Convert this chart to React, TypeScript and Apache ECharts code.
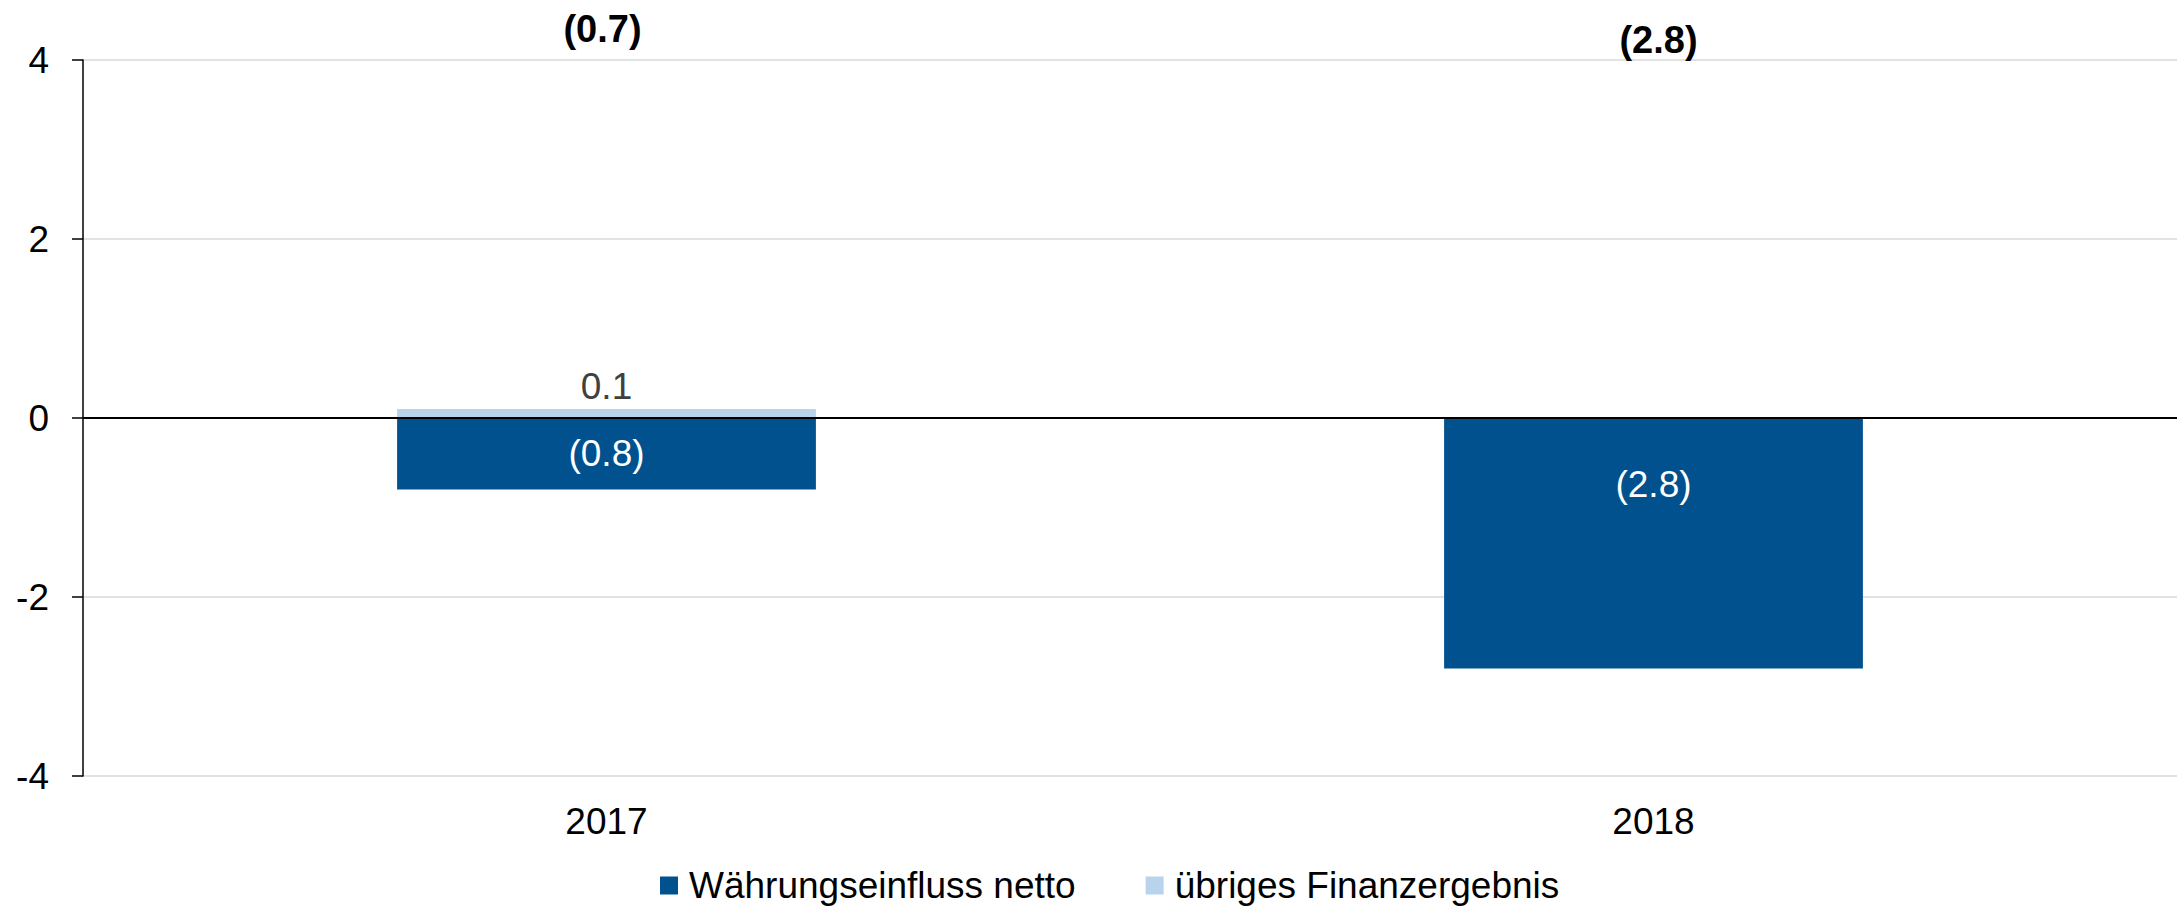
import React, { useEffect, useRef } from "react";
import * as echarts from "echarts";

const categories = ["2017", "2018"];
const waehrung = [-0.8, -2.8];
const uebriges = [0.1, 0];
const totals = [-0.7, -2.8];
const yTicks = { min: -4, max: 4, interval: 2 };

const FONT = "'Liberation Sans', Arial, sans-serif";
const FS = 37;
const fmt = (v: number) => (v < 0 ? `(${Math.abs(v).toFixed(1)})` : v.toFixed(1));

export default function App() {
  const ref = useRef<HTMLDivElement>(null);
  useEffect(() => {
    if (!ref.current) return;
    const chart = echarts.init(ref.current, undefined, { renderer: "svg" });
    chart.setOption({
      animation: false,
      textStyle: { fontFamily: FONT },
      grid: { left: 83, right: 0, top: 60, bottom: 132, containLabel: false },
      legend: {
        left: 655,
        top: 862,
        itemWidth: 18,
        itemHeight: 18,
        itemGap: 70,
        icon: "rect",
        textStyle: { fontSize: FS, color: "#000", fontFamily: FONT, padding: [0, 0, 0, 6] },
        data: ["Währungseinfluss netto", "übriges Finanzergebnis"],
      },
      xAxis: {
        type: "category",
        data: categories,
        position: "bottom",
        axisLine: { show: false, onZero: false },
        axisTick: { show: false },
        axisLabel: { margin: 27, fontSize: FS, color: "#000", fontFamily: FONT },
      },
      yAxis: {
        type: "value",
        min: yTicks.min,
        max: yTicks.max,
        interval: yTicks.interval,
        axisLine: { show: true, lineStyle: { color: "#000", width: 1.5 } },
        axisTick: { show: true, length: 11, lineStyle: { color: "#000", width: 1.5 } },
        axisLabel: { margin: 34, fontSize: FS, color: "#000", fontFamily: FONT },
        splitLine: { show: true, lineStyle: { color: "#D9D9D9", width: 1.5 } },
      },
      series: [
        {
          name: "Währungseinfluss netto",
          type: "bar",
          stack: "total",
          barWidth: "40%",
          itemStyle: { color: "#00518E" },
          label: {
            show: true,
            color: "#fff",
            fontSize: FS,
            fontFamily: FONT,
            formatter: (p: any) => fmt(p.value),
          },
          data: waehrung.map((v, i) => ({
            value: v,
            label: i === 0 ? { position: "inside" } : { position: "insideTop", distance: 48 },
          })),
          markLine: {
            silent: true,
            symbol: "none",
            label: { show: false },
            lineStyle: { color: "#000", width: 2, type: "solid" },
            data: [{ yAxis: 0 }],
          },
        },
        {
          name: "übriges Finanzergebnis",
          type: "bar",
          stack: "total",
          barWidth: "40%",
          itemStyle: { color: "#B9D3EC" },
          label: {
            show: true,
            position: "top",
            distance: 4,
            color: "#404040",
            fontSize: FS,
            fontFamily: FONT,
            formatter: (p: any) => (p.value === 0 ? "" : fmt(p.value)),
          },
          data: uebriges,
        },
      ],
    });
    const totalY = [29, 40];
    const totalDx = [-4, 5];
    chart.setOption({
      graphic: totals.map((t, i) => {
        const x = chart.convertToPixel({ xAxisIndex: 0 }, categories[i]) as number;
        return {
          type: "text",
          x: x + totalDx[i],
          y: totalY[i],
          style: {
            text: fmt(t),
            fontSize: 38,
            fontWeight: "bold",
            fontFamily: FONT,
            fill: "#000",
            align: "center",
            verticalAlign: "middle",
          },
        };
      }),
    });
    return () => chart.dispose();
  }, []);
  return (
    <div
      ref={ref}
      style={{ position: "absolute", left: 0, top: 0, width: 2177, height: 908, background: "#fff" }}
    />
  );
}
